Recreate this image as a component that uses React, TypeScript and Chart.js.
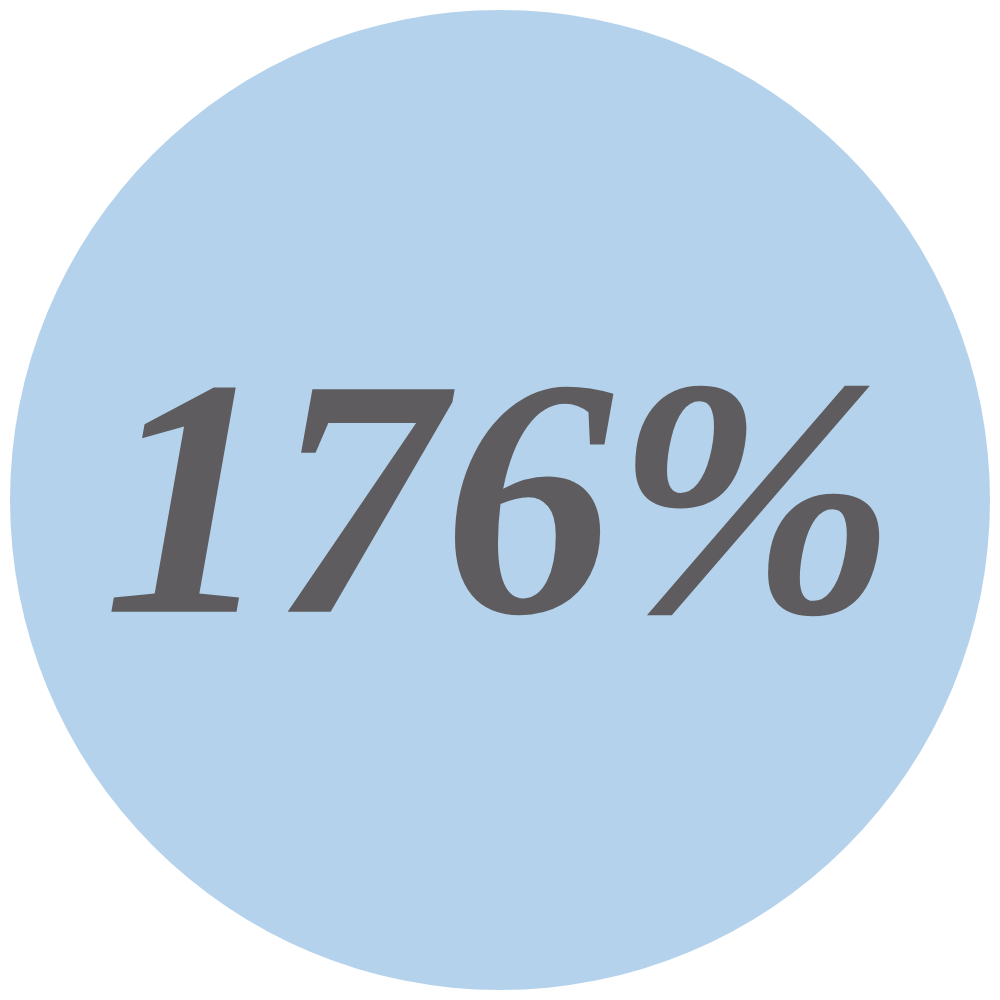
import { useEffect, useRef } from "react";
import { Chart, ArcElement, PieController, type Plugin } from "chart.js";

Chart.register(ArcElement, PieController);

const labels = ["Share"];
const values = [176];
const centerText = "176%";

const centerLabel: Plugin<"pie"> = {
  id: "centerLabel",
  afterDatasetsDraw(chart) {
    const { ctx, chartArea } = chart;
    const cx = (chartArea.left + chartArea.right) / 2;
    const cy = (chartArea.top + chartArea.bottom) / 2 + 24;
    ctx.save();
    ctx.font = "italic bold 340px \"Liberation Serif\"";
    ctx.fillStyle = "#5e5c5e";
    ctx.textAlign = "center";
    ctx.textBaseline = "middle";
    ctx.fillText(centerText, cx, cy);
    ctx.restore();
  },
};

export default function App() {
  const ref = useRef<HTMLCanvasElement | null>(null);

  useEffect(() => {
    if (!ref.current) return;
    const chart = new Chart(ref.current, {
      type: "pie",
      data: {
        labels,
        datasets: [{ data: values, backgroundColor: "#b4d2ec", borderWidth: 0 }],
      },
      options: {
        responsive: false,
        animation: false,
        devicePixelRatio: 1,
        layout: { padding: 10 },
        plugins: { legend: { display: false }, tooltip: { enabled: false } },
      },
      plugins: [centerLabel],
    });
    return () => chart.destroy();
  }, []);

  return (
    <div style={{ position: "fixed", inset: 0, background: "#fff" }}>
      <canvas ref={ref} width={1000} height={1000} />
    </div>
  );
}
